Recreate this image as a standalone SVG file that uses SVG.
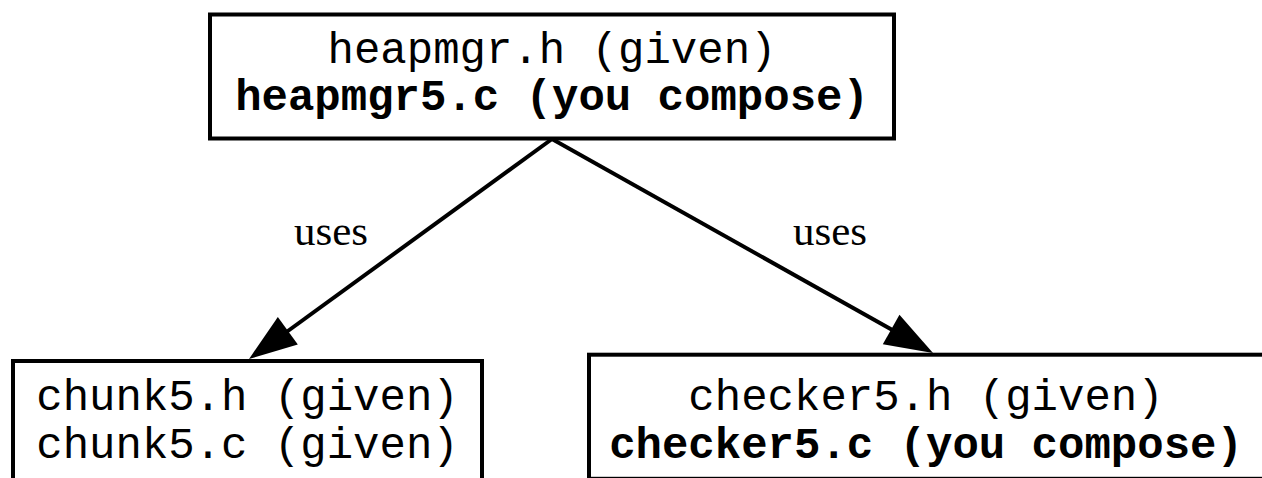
<svg xmlns="http://www.w3.org/2000/svg" xmlns:xlink="http://www.w3.org/1999/xlink" width="1262" height="478" viewBox="0 0 1262 478">
<style>
.box{fill:#fff;stroke:#000;stroke-width:4}
.mono{font-family:"Liberation Mono","Courier New",monospace;font-size:44px;fill:#000;text-anchor:middle}
.b{font-weight:bold}
.lbl{font-family:"Liberation Serif","Times New Roman",serif;font-size:43px;fill:#000;text-anchor:middle}
.edge{stroke:#000;stroke-width:4;fill:none}
</style>
<defs>
<path id="head" d="M0,0 L-48,-17 L-48,17 z" fill="#000"/>
</defs>
<rect width="1262" height="478" fill="#fff"/>
<g id="connectors">
<line class="edge" x1="552" y1="139" x2="270" y2="344"/>
<use xlink:href="#head" transform="translate(249,359) rotate(144)"/>
<text class="lbl" x="331" y="245">uses</text>
<line class="edge" x1="552" y1="139" x2="912" y2="341"/>
<use xlink:href="#head" transform="translate(933,353) rotate(29.3)"/>
<text class="lbl" x="830" y="245">uses</text>
</g>
<g id="heapmgr">
<rect class="box" x="210" y="14.5" width="684" height="124"/>
<text class="mono" x="552" y="63">heapmgr.h (given)</text>
<text class="mono b" x="552" y="110">heapmgr5.c (you compose)</text>
</g>
<g id="chunk">
<rect class="box" x="13" y="361" width="469" height="140"/>
<text class="mono" x="247.5" y="410">chunk5.h (given)</text>
<text class="mono" x="247.5" y="458">chunk5.c (given)</text>
</g>
<g id="checker">
<rect class="box" x="589" y="354.7" width="700" height="124.1"/>
<text class="mono" x="926" y="410">checker5.h (given)</text>
<text class="mono b" x="926" y="458">checker5.c (you compose)</text>
</g>
</svg>
